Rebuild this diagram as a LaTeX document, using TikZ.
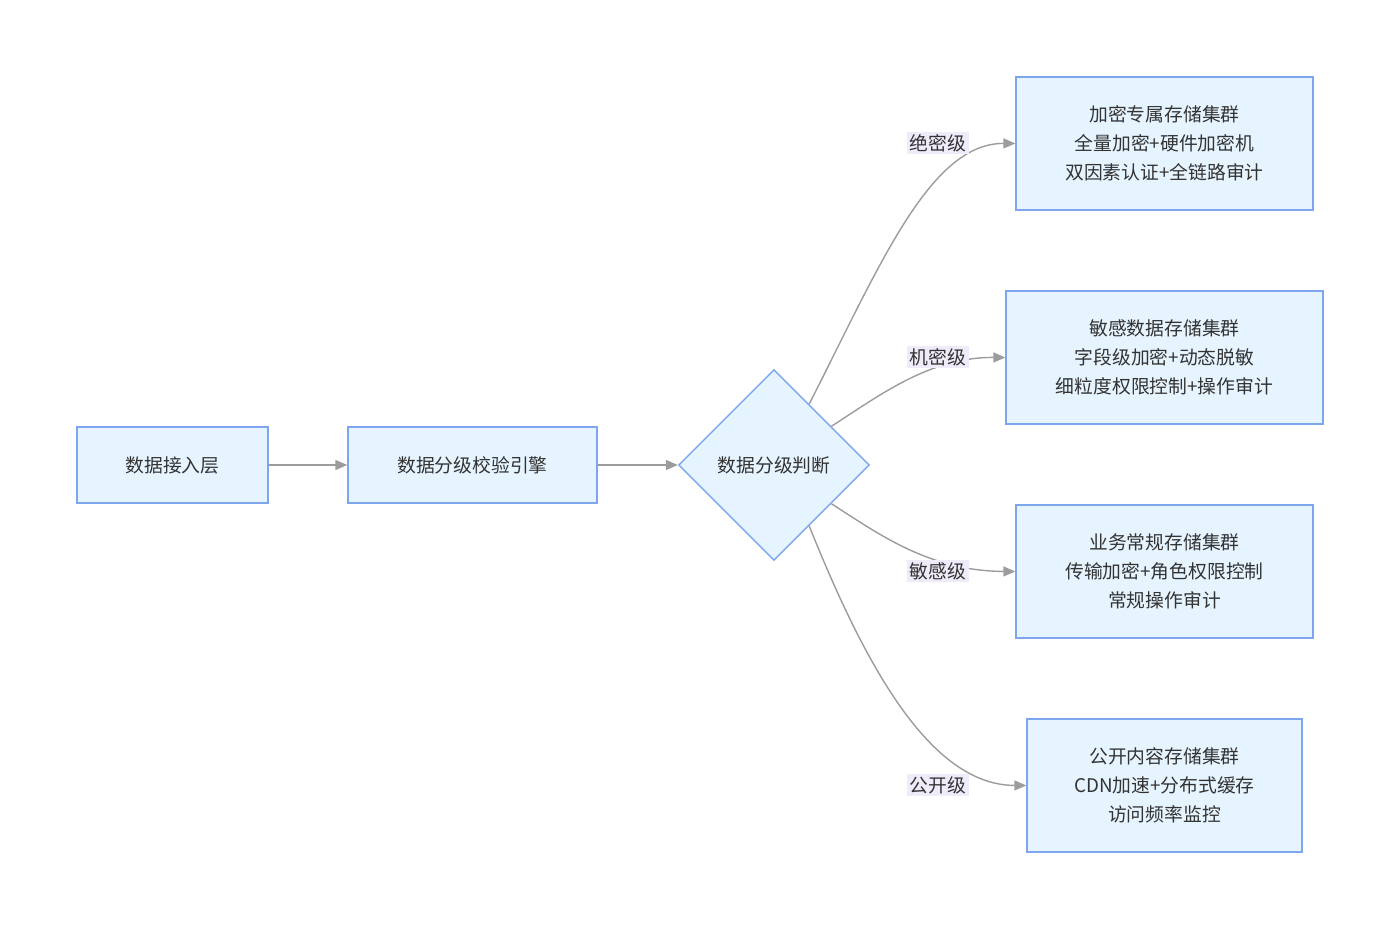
\documentclass[tikz,border=0pt]{standalone}
\usepackage{fontspec}
\newfontfamily\cjk{Noto Sans CJK SC}
\usetikzlibrary{shapes,arrows.meta}
\definecolor{boxfill}{HTML}{E6F4FF}
\definecolor{boxline}{HTML}{7EA6EE}
\definecolor{linegray}{HTML}{9C9C9C}
\definecolor{lblfill}{HTML}{F0EBFA}
\definecolor{txt}{HTML}{333333}

\begin{document}
\begin{tikzpicture}[x=0.02cm,y=-0.02cm,
        box/.style={rectangle,draw=boxline,fill=boxfill,line width=0.8pt,inner sep=0pt,
            minimum height=1.52cm,align=center,text=txt,font=\cjk\fontsize{10.7}{16.4}\selectfont},
        store/.style={box,minimum height=2.66cm},
        decision/.style={diamond,aspect=1,draw=boxline,fill=boxfill,line width=0.8pt,inner sep=0pt,
            minimum width=3.82cm,minimum height=3.82cm,text=txt,font=\cjk\fontsize{10.7}{16.4}\selectfont},
        lbl/.style={rectangle,fill=lblfill,inner sep=1.5pt,text=txt,font=\cjk\fontsize{10.7}{13}\selectfont},
        flow/.style={draw=linegray,line width=0.8pt,-{Triangle[length=0.24cm,width=0.2cm,fill=linegray]}}]
    \useasboundingbox (0,0) rectangle (1400,930);

    % main line
    \node[box,minimum width=3.82cm] (ingest) at (172.5,465) {数据接入层};
    \node[box,minimum width=4.98cm] (check) at (472.5,465) {数据分级校验引擎};
    \node[decision] (judge) at (774,465) {数据分级判断};

    % storage clusters
    \node[store,minimum width=5.94cm] (top) at (1164.5,143.5) {加密专属存储集群\\全量加密+硬件加密机\\双因素认证+全链路审计};
    \node[store,minimum width=6.34cm] (secret) at (1164.5,357.5) {敏感数据存储集群\\字段级加密+动态脱敏\\细粒度权限控制+操作审计};
    \node[store,minimum width=5.94cm] (sens) at (1164.5,571.5) {业务常规存储集群\\传输加密+角色权限控制\\常规操作审计};
    \node[store,minimum width=5.5cm] (open) at (1164.5,785.5) {公开内容存储集群\\CDN加速+分布式缓存\\访问频率监控};

    \draw[flow] (ingest.east) -- (check.west);
    \draw[flow] (check.east) -- (judge.west);

    \draw[flow] (judge.60) .. controls (880,265) and (930,143) .. (top.west);
    \draw[flow] (judge.34) .. controls (880,395) and (930,357) .. (secret.west);
    \draw[flow] (judge.-34) .. controls (880,535) and (930,571) .. (sens.west);
    \draw[flow] (judge.-60) .. controls (865,665) and (930,785) .. (open.west);

    % edge labels
    \node[lbl] (ltop) at (938,143) {绝密级};
    \node[lbl] (lsecret) at (938,357) {机密级};
    \node[lbl] (lsens) at (938,571) {敏感级};
    \node[lbl] (lopen) at (938,785) {公开级};
\end{tikzpicture}
\end{document}
